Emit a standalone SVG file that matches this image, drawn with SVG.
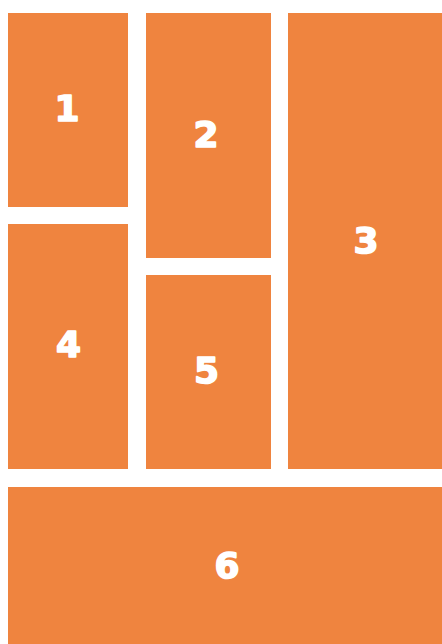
<svg xmlns="http://www.w3.org/2000/svg" width="442" height="644" viewBox="0 0 442 644">
<style>
.b{fill:#EF843F}
.t{fill:#FFFFFF;stroke:#FFFFFF;stroke-width:1.6;stroke-linejoin:round;font-family:"DejaVu Sans","Liberation Sans",sans-serif;font-weight:bold;font-size:36px;text-anchor:middle}
</style>
<rect width="442" height="644" fill="#FFFFFF"/>
<g id="node1"><rect class="b" x="8" y="13" width="120" height="194"/><text class="t" x="67" y="121">1</text></g>
<g id="node2"><rect class="b" x="146" y="13" width="125" height="245"/><text class="t" x="206" y="146.5">2</text></g>
<g id="node3"><rect class="b" x="288" y="13" width="154" height="456"/><text class="t" x="366" y="253">3</text></g>
<g id="node4"><rect class="b" x="8" y="224" width="120" height="245"/><text class="t" x="68.5" y="357">4</text></g>
<g id="node5"><rect class="b" x="146" y="275" width="125" height="194"/><text class="t" x="206.5" y="383">5</text></g>
<g id="node6"><rect class="b" x="8" y="487" width="434" height="157"/><text class="t" x="227" y="578">6</text></g>
<g id="connectors"></g>
</svg>
